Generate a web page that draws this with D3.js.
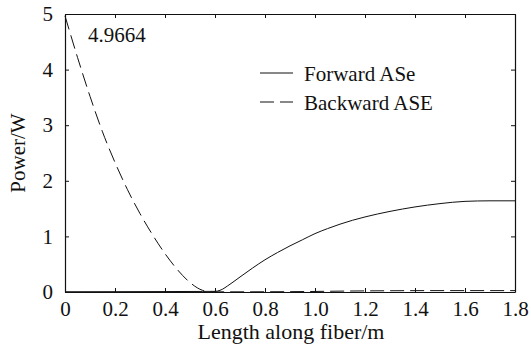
<!DOCTYPE html>
<html>
<head>
<meta charset="utf-8">
<script src="https://cdn.jsdelivr.net/npm/d3@7"></script>
<style>
  body { margin: 0; background: #fff; }
  svg text { font-family: "Liberation Serif", "Times New Roman", Tinos, "Nimbus Roman", "DejaVu Serif", serif; fill: #111; }
</style>
</head>
<body>
<svg id="chart" width="531" height="347"></svg>
<script>
// values
const xTicks = [0, 0.2, 0.4, 0.6, 0.8, 1.0, 1.2, 1.4, 1.6, 1.8];
const xTickLabels = ["0", "0.2", "0.4", "0.6", "0.8", "1.0", "1.2", "1.4", "1.6", "1.8"];
const yTicks = [0, 1, 2, 3, 4, 5];

const backwardLength = [0, 0.05, 0.10, 0.15, 0.20, 0.25, 0.30, 0.35, 0.40, 0.45, 0.50, 0.55, 0.58, 0.62, 0.9, 1.2, 1.5, 1.8];
const backwardPower  = [4.9664, 4.22, 3.52, 2.88, 2.33, 1.84, 1.41, 1.03, 0.69, 0.40, 0.17, 0.03, 0.004, 0.003, 0.006, 0.02, 0.025, 0.025];

const forwardLength = [0, 0.2, 0.4, 0.55, 0.60, 0.62, 0.66, 0.70, 0.75, 0.80, 0.85, 0.90, 0.95, 1.00, 1.05, 1.10, 1.15, 1.20, 1.30, 1.40, 1.50, 1.60, 1.70, 1.80];
const forwardPower  = [0.005, 0.006, 0.008, 0.01, 0.012, 0.03, 0.14, 0.27, 0.43, 0.58, 0.71, 0.83, 0.94, 1.05, 1.14, 1.22, 1.29, 1.35, 1.45, 1.53, 1.59, 1.63, 1.64, 1.64];

const peakLabel = "4.9664";
const legendNames = ["Forward ASe", "Backward ASE"];

const svg = d3.select("#chart");
const m = { left: 65, right: 16, top: 14, bottom: 55 };
const W = 531, H = 347;

const x = d3.scaleLinear().domain([0, 1.8]).range([m.left, W - m.right]);
const y = d3.scaleLinear().domain([0, 5]).range([H - m.bottom, m.top]);

const fontSize = 21;
const ink = "#111";

// curves
const line = d3.line()
    .x(d => x(d[0]))
    .y(d => y(d[1]))
    .curve(d3.curveMonotoneX);

const forward = forwardLength.map((v, i) => [v, forwardPower[i]]);
const backward = backwardLength.map((v, i) => [v, backwardPower[i]]);

svg.append("path")
    .datum(backward)
    .attr("d", line)
    .attr("fill", "none")
    .attr("stroke", ink)
    .attr("stroke-width", 1)
    .attr("stroke-dasharray", "14,6");

svg.append("path")
    .datum(forward)
    .attr("d", line)
    .attr("fill", "none")
    .attr("stroke", ink)
    .attr("stroke-width", 1);

// axes with inward ticks on all four sides
const tickLen = 4;
svg.append("g")
    .attr("transform", `translate(0,${y(0)})`)
    .call(d3.axisBottom(x).tickValues(xTicks).tickSizeInner(-tickLen).tickSizeOuter(0)
        .tickPadding(9).tickFormat((d, i) => xTickLabels[i]));

svg.append("g")
    .attr("transform", `translate(0,${y(5)})`)
    .call(d3.axisTop(x).tickValues(xTicks).tickSizeInner(-tickLen).tickSizeOuter(0).tickFormat(""));

svg.append("g")
    .attr("transform", `translate(${x(0)},0)`)
    .call(d3.axisLeft(y).tickValues(yTicks).tickSizeInner(-tickLen).tickSizeOuter(0)
        .tickPadding(12).tickFormat(d3.format("d")));

svg.append("g")
    .attr("transform", `translate(${x(1.8)},0)`)
    .call(d3.axisRight(y).tickValues(yTicks).tickSizeInner(-tickLen).tickSizeOuter(0).tickFormat(""));

svg.selectAll("g").attr("font-family", null);
svg.selectAll(".domain").attr("stroke", ink).attr("stroke-width", 1.2);
svg.selectAll(".tick line").attr("stroke", ink);
svg.selectAll(".tick text")
    .attr("font-size", fontSize)
    .attr("fill", ink);

// axis titles
svg.append("text")
    .attr("x", (x(0) + x(1.8)) / 2 + 1)
    .attr("y", 339)
    .attr("text-anchor", "middle")
    .attr("font-size", 22)
    .text("Length along fiber/m");

svg.append("text")
    .attr("transform", `translate(25,${(y(0) + y(5)) / 2}) rotate(-90)`)
    .attr("text-anchor", "middle")
    .attr("font-size", fontSize)
    .text("Power/W");

// peak annotation
svg.append("text")
    .attr("x", 88)
    .attr("y", 42)
    .attr("font-size", fontSize)
    .text(peakLabel);

// legend
const legend = svg.append("g").attr("transform", "translate(260,73)");
legendNames.forEach((name, i) => {
    const row = legend.append("g").attr("transform", `translate(0,${i * 29})`);
    row.append("line")
        .attr("x1", 0).attr("x2", 33)
        .attr("stroke", ink)
        .attr("stroke-width", 1)
        .attr("stroke-dasharray", i === 1 ? "14,6" : null);
    row.append("text")
        .attr("x", 44)
        .attr("y", 8)
        .attr("font-size", fontSize)
        .text(name);
});
</script>
</body>
</html>
